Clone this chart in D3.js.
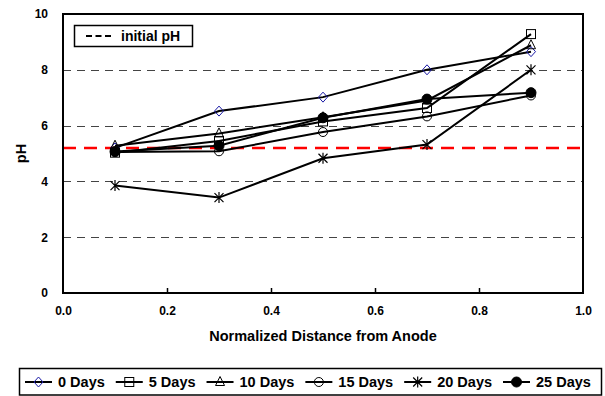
<!DOCTYPE html>
<html>
<head>
<meta charset="utf-8">
<script src="https://cdn.jsdelivr.net/npm/d3@7/dist/d3.min.js"></script>
<style>
body { margin: 0; background: #fff; }
text { font-family: Arial, "Liberation Sans", sans-serif; font-weight: bold; fill: #000; }
</style>
</head>
<body>
<div id="chart"></div>
<script>
// values
var distances = [0.1, 0.3, 0.5, 0.7, 0.9];
var seriesNames = ["0 Days", "5 Days", "10 Days", "15 Days", "20 Days", "25 Days"];
var days0 = [5.2, 6.52, 7.02, 8.0, 8.65];
var days5 = [5.03, 5.45, 6.15, 6.63, 9.28];
var days10 = [5.28, 5.72, 6.3, 6.9, 8.88];
var days15 = [5.05, 5.08, 5.77, 6.33, 7.08];
var days20 = [3.85, 3.42, 4.83, 5.32, 8.0];
var days25 = [5.07, 5.28, 6.28, 6.95, 7.18];
var initialPH = 5.2;
var xTicks = [0, 0.2, 0.4, 0.6, 0.8, 1.0];
var yTicks = [0, 2, 4, 6, 8, 10];
var gridLines = [2, 4, 6, 8];

var markerTypes = ["diamond", "square", "triangle", "circle", "star", "dot"];
var markerColors = ["#1a1aa6", "#000", "#000", "#000", "#000", "#000"];

var width = 605, height = 396;
var margin = {left: 63, right: 22, top: 14, bottom: 103};

var svg = d3.select("#chart").append("svg")
    .attr("width", width)
    .attr("height", height);

var x = d3.scaleLinear().domain([0, 1]).range([margin.left, width - margin.right]);
var y = d3.scaleLinear().domain([0, 10]).range([height - margin.bottom, margin.top]);

var allSeries = [days0, days5, days10, days15, days20, days25].map(function(vals, i) {
    return {
        name: seriesNames[i],
        type: markerTypes[i],
        color: markerColors[i],
        points: vals.map(function(v, j) { return {x: distances[j], y: v}; })
    };
});

// draws a marker of given type centred at 0,0
function drawMarker(g, type, color) {
    if (type == "diamond") {
        g.append("path").attr("d", "M0,-5L4.5,0L0,5L-4.5,0Z")
            .attr("fill", "none").attr("stroke", color).attr("stroke-width", 1);
    } else if (type == "square") {
        g.append("rect").attr("x", -4.5).attr("y", -4.5).attr("width", 9).attr("height", 9)
            .attr("fill", "none").attr("stroke", color).attr("stroke-width", 1);
    } else if (type == "triangle") {
        g.append("path").attr("d", "M0,-5.5L4.5,3.5L-4.5,3.5Z")
            .attr("fill", "none").attr("stroke", color).attr("stroke-width", 1);
    } else if (type == "circle") {
        g.append("circle").attr("r", 4.5)
            .attr("fill", "none").attr("stroke", color).attr("stroke-width", 1);
    } else if (type == "star") {
        g.append("path").attr("d", "M0,-5.5L0,5.5M-4.5,-4.5L4.5,4.5M-4.5,4.5L4.5,-4.5")
            .attr("fill", "none").attr("stroke", color).attr("stroke-width", 1.2);
    } else if (type == "dot") {
        g.append("circle").attr("r", 5).attr("fill", color).attr("stroke", color);
    }
}

var plot = svg.append("g");

// dashed horizontal grid
plot.selectAll("line.grid")
    .data(gridLines)
    .enter().append("line")
    .attr("class", "grid")
    .attr("x1", x(0)).attr("x2", x(1))
    .attr("y1", function(d) { return Math.round(y(d)) + 0.5; })
    .attr("y2", function(d) { return Math.round(y(d)) + 0.5; })
    .attr("stroke", "#444")
    .attr("stroke-width", 1)
    .attr("stroke-dasharray", "8,6");

// initial pH line
plot.append("line")
    .attr("x1", x(0)).attr("x2", x(1))
    .attr("y1", y(initialPH)).attr("y2", y(initialPH))
    .attr("stroke", "#ff0000")
    .attr("stroke-width", 2.5)
    .attr("stroke-dasharray", "13,8");

var line = d3.line()
    .x(function(d) { return x(d.x); })
    .y(function(d) { return y(d.y); });

var seriesG = plot.selectAll("g.series")
    .data(allSeries)
    .enter().append("g")
    .attr("class", "series");

seriesG.append("path")
    .attr("d", function(d) { return line(d.points); })
    .attr("fill", "none")
    .attr("stroke", "#000")
    .attr("stroke-width", 2);

seriesG.each(function(s) {
    d3.select(this).selectAll("g.mark")
        .data(s.points)
        .enter().append("g")
        .attr("class", "mark")
        .attr("transform", function(d) { return "translate(" + x(d.x) + "," + y(d.y) + ")"; })
        .each(function() { drawMarker(d3.select(this), s.type, s.color); });
});

// frame
svg.append("rect")
    .attr("x", x(0)).attr("y", y(10))
    .attr("width", x(1) - x(0)).attr("height", y(0) - y(10))
    .attr("fill", "none")
    .attr("stroke", "#000")
    .attr("stroke-width", 2);

// axes
var xAxis = d3.axisBottom(x).tickValues(xTicks).tickFormat(d3.format(".1f")).tickSizeInner(-5).tickSizeOuter(0).tickPadding(13);
var gx = svg.append("g").attr("transform", "translate(0," + y(0) + ")").call(xAxis);
gx.select(".domain").remove();
gx.selectAll(".tick line").attr("stroke", "#000").attr("stroke-width", 1.5);
gx.selectAll(".tick text").attr("font-size", 12).attr("fill", "#000");
gx.selectAll(".tick").filter(function(d) { return d == 0 || d == 1; }).select("line").remove();

var yAxis = d3.axisLeft(y).tickValues(yTicks).tickFormat(d3.format("d")).tickSize(0).tickPadding(15);
var gy = svg.append("g").attr("transform", "translate(" + x(0) + ",0)").call(yAxis);
gy.select(".domain").remove();
gy.selectAll(".tick text").attr("font-size", 12).attr("fill", "#000");

svg.append("text")
    .attr("transform", "translate(26," + ((y(0) + y(10)) / 2) + ") rotate(-90)")
    .attr("text-anchor", "middle")
    .attr("font-size", 14.5)
    .text("pH");

svg.append("text")
    .attr("x", (x(0) + x(1)) / 2)
    .attr("y", 341)
    .attr("text-anchor", "middle")
    .attr("font-size", 14.5)
    .text("Normalized Distance from Anode");

// inner legend
var inLeg = svg.append("g");
inLeg.append("rect")
    .attr("x", 74.5).attr("y", 25.5).attr("width", 118).attr("height", 21)
    .attr("fill", "#fff").attr("stroke", "#000").attr("stroke-width", 1.5);
inLeg.append("line")
    .attr("x1", 86).attr("x2", 111).attr("y1", 36).attr("y2", 36)
    .attr("stroke", "#000").attr("stroke-width", 2).attr("stroke-dasharray", "6,3.5");
inLeg.append("text")
    .attr("x", 121).attr("y", 41)
    .attr("font-size", 14)
    .text("initial pH");

// bottom legend
var leg = svg.append("g");
leg.append("rect")
    .attr("x", 19.5).attr("y", 368.5).attr("width", 582).attr("height", 26.5)
    .attr("fill", "#fff").attr("stroke", "#000").attr("stroke-width", 1.5);
var lx = 25, ly = 382;
allSeries.forEach(function(s) {
    var item = leg.append("g");
    item.append("line")
        .attr("x1", lx).attr("x2", lx + 27).attr("y1", ly).attr("y2", ly)
        .attr("stroke", "#000").attr("stroke-width", 2);
    drawMarker(item.append("g").attr("transform", "translate(" + (lx + 13.5) + "," + ly + ")"), s.type, s.color);
    var t = item.append("text")
        .attr("x", lx + 33).attr("y", ly + 5)
        .attr("font-size", 14.5)
        .text(s.name);
    lx += 33 + t.node().getComputedTextLength() + 11;
});
</script>
</body>
</html>
